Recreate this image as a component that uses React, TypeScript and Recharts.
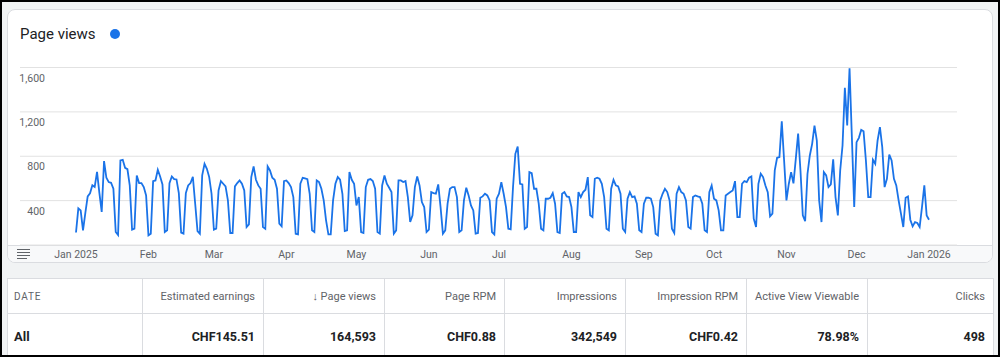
import React from 'react';
import { LineChart, Line, XAxis, YAxis, CartesianGrid } from 'recharts';

// ---- Data ----
const startDate = '2025-01-01';
const monthTickDays = [0, 31, 59, 90, 120, 151, 181, 212, 243, 273, 304, 334, 365];
const monthTickLabels = ['Jan 2025', 'Feb', 'Mar', 'Apr', 'May', 'Jun', 'Jul', 'Aug', 'Sep', 'Oct', 'Nov', 'Dec', 'Jan 2026'];
const yTicks = [400, 800, 1200, 1600];

// daily page views, 1 Jan 2025 .. 1 Jan 2026
const pageViews = [
  113, 330, 312, 132, 290, 438, 466, 539, 523, 659, 470, 298, 756, 606, 567, 561, 507, 117, 90, 762,
  768, 696, 684, 537, 138, 147, 627, 558, 558, 522, 447, 87, 102, 576, 582, 678, 618, 546, 117, 132,
  558, 618, 594, 591, 468, 111, 102, 468, 537, 558, 615, 372, 126, 102, 627, 732, 687, 612, 462, 138,
  147, 492, 576, 552, 528, 402, 108, 108, 528, 558, 582, 552, 492, 162, 186, 612, 708, 588, 537, 507,
  162, 147, 708, 672, 606, 588, 507, 192, 168, 576, 582, 558, 522, 432, 102, 96, 552, 606, 600, 594,
  462, 132, 117, 582, 567, 507, 402, 222, 96, 96, 402, 552, 612, 588, 462, 126, 132, 657, 588, 552,
  357, 432, 117, 108, 522, 588, 594, 576, 507, 117, 102, 537, 627, 552, 516, 477, 102, 132, 582, 582,
  567, 576, 432, 207, 267, 522, 618, 537, 387, 342, 117, 138, 477, 468, 462, 546, 342, 102, 132, 372,
  507, 522, 522, 432, 117, 132, 402, 516, 447, 357, 312, 102, 108, 426, 438, 462, 447, 402, 117, 96,
  417, 462, 567, 462, 342, 147, 141, 522, 822, 888, 552, 546, 147, 162, 657, 648, 507, 507, 372, 147,
  132, 417, 417, 426, 468, 372, 117, 108, 462, 477, 438, 432, 342, 117, 117, 477, 432, 477, 498, 612,
  267, 252, 597, 606, 597, 552, 432, 147, 132, 507, 588, 537, 528, 462, 147, 117, 417, 477, 432, 438,
  372, 132, 117, 372, 426, 426, 417, 342, 102, 87, 402, 462, 507, 477, 402, 147, 108, 462, 522, 477,
  462, 402, 162, 147, 432, 447, 438, 432, 372, 132, 117, 477, 537, 417, 402, 312, 132, 132, 447, 462,
  477, 492, 576, 252, 252, 552, 576, 567, 606, 618, 237, 162, 552, 642, 612, 537, 477, 258, 282, 672,
  786, 792, 1115, 762, 402, 550, 657, 555, 777, 1004, 672, 267, 215, 640, 807, 912, 1077, 942, 402, 207,
  657, 627, 522, 546, 772, 432, 267, 672, 897, 1418, 1078, 1594, 970, 342, 927, 966, 1038, 1026, 762, 432,
  432, 768, 732, 942, 1062, 882, 522, 597, 816, 762, 597, 537, 402, 282, 162, 426, 438, 228, 168, 207,
  198, 162, 342, 537, 267, 228,
];

const tableHeaders = ['DATE', 'Estimated earnings', '\u2193 Page views', 'Page RPM', 'Impressions', 'Impression RPM', 'Active View Viewable', 'Clicks'];
const tableTotals = ['All', 'CHF145.51', '164,593', 'CHF0.88', '342,549', 'CHF0.42', '78.98%', '498'];

const chartData = pageViews.map((v, i) => ({ day: i, views: v }));

// ---- Styles ----
const FONT = 'Roboto, "Noto Sans", Arial, sans-serif';
const BLUE = '#1a73e8';
const GREY_TEXT = '#5f6368';
const BORDER = '#dadce0';
const colWidths = [136, 121, 121, 120, 121, 121, 121, 126];

const fmt = (n: number) => n.toLocaleString('en-US');

const YTick = (props: any) => {
  const { y, payload } = props;
  return (
    <text x={45} y={y + 10.5} textAnchor="end" dominantBaseline="central" fill={GREY_TEXT} fontSize={10.5} fontFamily={FONT}>
      {fmt(payload.value)}
    </text>
  );
};

const XTick = (props: any) => {
  const { x, y, payload } = props;
  const idx = monthTickDays.indexOf(payload.value);
  return (
    <text x={x} y={y + 9} textAnchor="middle" dominantBaseline="central" fill={GREY_TEXT} fontSize={10.5} fontFamily={FONT}>
      {idx >= 0 ? monthTickLabels[idx] : ''}
    </text>
  );
};

export default function App() {
  return (
    <div style={{ position: 'absolute', left: 0, top: 0, width: 1000, height: 357, background: '#f1f3f4', overflow: 'hidden', fontFamily: FONT }} data-start={startDate}>
      {/* card */}
      <div style={{ position: 'absolute', left: 7, top: 9, width: 986, height: 254, boxSizing: 'border-box', background: '#fff', border: `1px solid ${BORDER}`, borderRadius: 8, overflow: 'hidden' }}>
        <div style={{ position: 'absolute', left: 0, right: 0, top: 235, bottom: 0, background: '#f8f9fa', borderTop: `1px solid ${BORDER}` }} />
      </div>
      {/* title */}
      <div style={{ position: 'absolute', left: 20, top: 24, height: 20, lineHeight: '20px', fontSize: 15, color: '#202124' }}>Page views</div>
      <div style={{ position: 'absolute', left: 110, top: 29, width: 10, height: 10, borderRadius: 5, background: BLUE }} />
      {/* legend icon */}
      {[0, 1, 2, 3].map((i) => (
        <div key={i} style={{ position: 'absolute', left: 17, top: 248.7 + i * 3, width: i === 3 ? 9.5 : 12.7, height: 1.3, background: GREY_TEXT }} />
      ))}
      {/* chart */}
      <div style={{ position: 'absolute', left: 0, top: 0 }}>
        <LineChart width={1000} height={265} data={chartData} margin={{ top: 67.5, right: 43, bottom: 0, left: 19 }}>
          <CartesianGrid vertical={false} stroke="#e2e2e2" strokeWidth={1} />
          <XAxis
            dataKey="day"
            type="number"
            domain={[0, 365]}
            ticks={monthTickDays}
            padding={{ left: 56, right: 28 }}
            axisLine={false}
            tickLine={false}
            tickSize={0}
            tickMargin={0}
            height={20}
            tick={<XTick />}
            interval={0}
          />
          <YAxis
            type="number"
            domain={[0, 1600]}
            ticks={yTicks}
            width={1}
            axisLine={false}
            tickLine={false}
            tick={<YTick />}
            interval={0}
          />
          <Line type="linear" dataKey="views" stroke={BLUE} strokeWidth={1.8} dot={false} isAnimationActive={false} />
        </LineChart>
      </div>
      {/* table */}
      <div style={{ position: 'absolute', left: 7, top: 278, width: 987, height: 90, background: '#fff', borderTop: `1px solid ${BORDER}`, borderLeft: `1px solid ${BORDER}`, boxSizing: 'border-box' }}>
        <div style={{ display: 'flex', height: 35, borderBottom: `1px solid ${BORDER}`, boxSizing: 'border-box' }}>
          {tableHeaders.map((h, i) => (
            <div key={i} style={{ width: colWidths[i] - (i === 0 ? 1 : 0), boxSizing: 'border-box', borderRight: `1px solid ${BORDER}`, display: 'flex', alignItems: 'center', justifyContent: i === 0 ? 'flex-start' : 'flex-end', padding: i === 0 ? '0 0 0 6px' : '0 8px 0 0', fontSize: i === 0 ? 10 : 11, letterSpacing: i === 0 ? 0.8 : 0, color: GREY_TEXT, whiteSpace: 'nowrap' }}>
              {h}
            </div>
          ))}
        </div>
        <div style={{ display: 'flex', height: 44 }}>
          {tableTotals.map((v, i) => (
            <div key={i} style={{ width: colWidths[i] - (i === 0 ? 1 : 0), boxSizing: 'border-box', borderRight: `1px solid ${BORDER}`, display: 'flex', alignItems: 'center', justifyContent: i === 0 ? 'flex-start' : 'flex-end', padding: i === 0 ? '0 0 0 6px' : '0 8px 0 0', fontSize: i === 0 ? 13 : 12.5, fontWeight: 700, color: '#202124', whiteSpace: 'nowrap' }}>
              {v}
            </div>
          ))}
        </div>
      </div>
      {/* outer frame */}
      <div style={{ position: 'absolute', left: 0, top: 0, width: 1000, height: 357, boxSizing: 'border-box', border: '2px solid #000', pointerEvents: 'none' }} />
    </div>
  );
}
